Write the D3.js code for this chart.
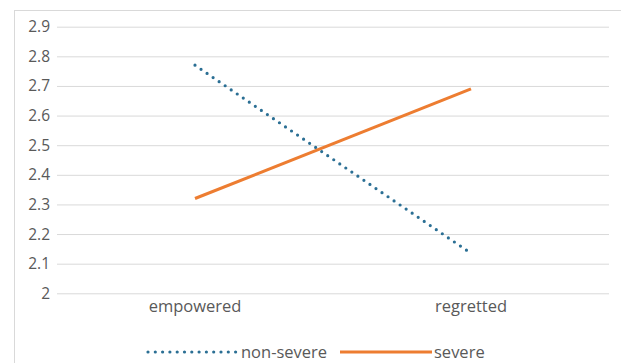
<!DOCTYPE html>
<html>
<head>
<meta charset="utf-8">
<script src="https://cdn.jsdelivr.net/npm/d3@7/dist/d3.min.js"></script>
<style>
  html, body { margin: 0; padding: 0; background: #fff; }
  svg { display: block; }
  text { font-family: "Open Sans", sans-serif; fill: #595959; }
</style>
</head>
<body>
<script>
// Mean ratings per condition
const categories = ["empowered", "regretted"];
const seriesNames = ["non-severe", "severe"];
const nonSevere = [2.77, 2.135];
const severe = [2.32, 2.69];
const yTicks = [2, 2.1, 2.2, 2.3, 2.4, 2.5, 2.6, 2.7, 2.8, 2.9];

const W = 621, H = 363;
const m = { left: 57, right: 12, top: 27, bottom: 70 };

const svg = d3.select("body").append("svg").attr("width", W).attr("height", H);

// outer chart frame
svg.append("rect")
  .attr("x", 14.5).attr("y", 10.5)
  .attr("width", W + 10).attr("height", H + 10)
  .attr("fill", "none").attr("stroke", "#d9d9d9").attr("stroke-width", 1);

const x = d3.scaleBand().domain(categories).range([m.left, W - m.right]);
const y = d3.scaleLinear().domain([2, 2.9]).range([293.3, 26.7]);

// horizontal gridlines + y labels
const yAxis = d3.axisLeft(y).tickValues(yTicks)
  .tickFormat(d => d === 2 ? "2" : d3.format(".1f")(d))
  .tickSize(-(W - m.right - m.left)).tickPadding(7);
const gy = svg.append("g").attr("transform", `translate(${m.left},0)`).call(yAxis);
gy.select(".domain").remove();
gy.selectAll(".tick line").attr("stroke", "#d9d9d9").attr("stroke-width", 1);
gy.selectAll(".tick text").attr("font-size", 15.5).attr("fill", "#595959");

// category labels
const xAxis = d3.axisBottom(x).tickSize(0).tickPadding(7);
const gx = svg.append("g").attr("transform", `translate(0,${y(2)})`).call(xAxis);
gx.select(".domain").remove();
gx.selectAll(".tick text").attr("font-size", 16.5).attr("fill", "#595959");

const cx = d => x(d) + x.bandwidth() / 2;
const line = d3.line().x((d, i) => cx(categories[i])).y(d => y(d));

const styles = {
  "non-severe": { color: "#2b6f94", dash: "0 7.3", cap: "round", width: 3.2 },
  "severe": { color: "#ed7d31", dash: null, cap: "butt", width: 3 }
};
const data = { "non-severe": nonSevere, "severe": severe };

seriesNames.forEach(name => {
  const s = styles[name];
  svg.append("path").datum(data[name])
    .attr("d", line)
    .attr("fill", "none")
    .attr("stroke", s.color)
    .attr("stroke-width", s.width)
    .attr("stroke-linecap", s.cap)
    .attr("stroke-dasharray", s.dash);
});

// legend
const legend = [
  { name: "non-severe", x1: 148, x2: 237, tx: 241 },
  { name: "severe", x1: 340, x2: 432, tx: 434 }
];
const ly = 352;
legend.forEach(l => {
  const s = styles[l.name];
  svg.append("line")
    .attr("x1", l.x1).attr("x2", l.x2).attr("y1", ly).attr("y2", ly)
    .attr("stroke", s.color).attr("stroke-width", s.width)
    .attr("stroke-linecap", s.cap).attr("stroke-dasharray", s.dash);
  svg.append("text").attr("x", l.tx).attr("y", ly).attr("dy", "0.35em")
    .attr("font-size", 16.5).text(l.name);
});
</script>
</body>
</html>
